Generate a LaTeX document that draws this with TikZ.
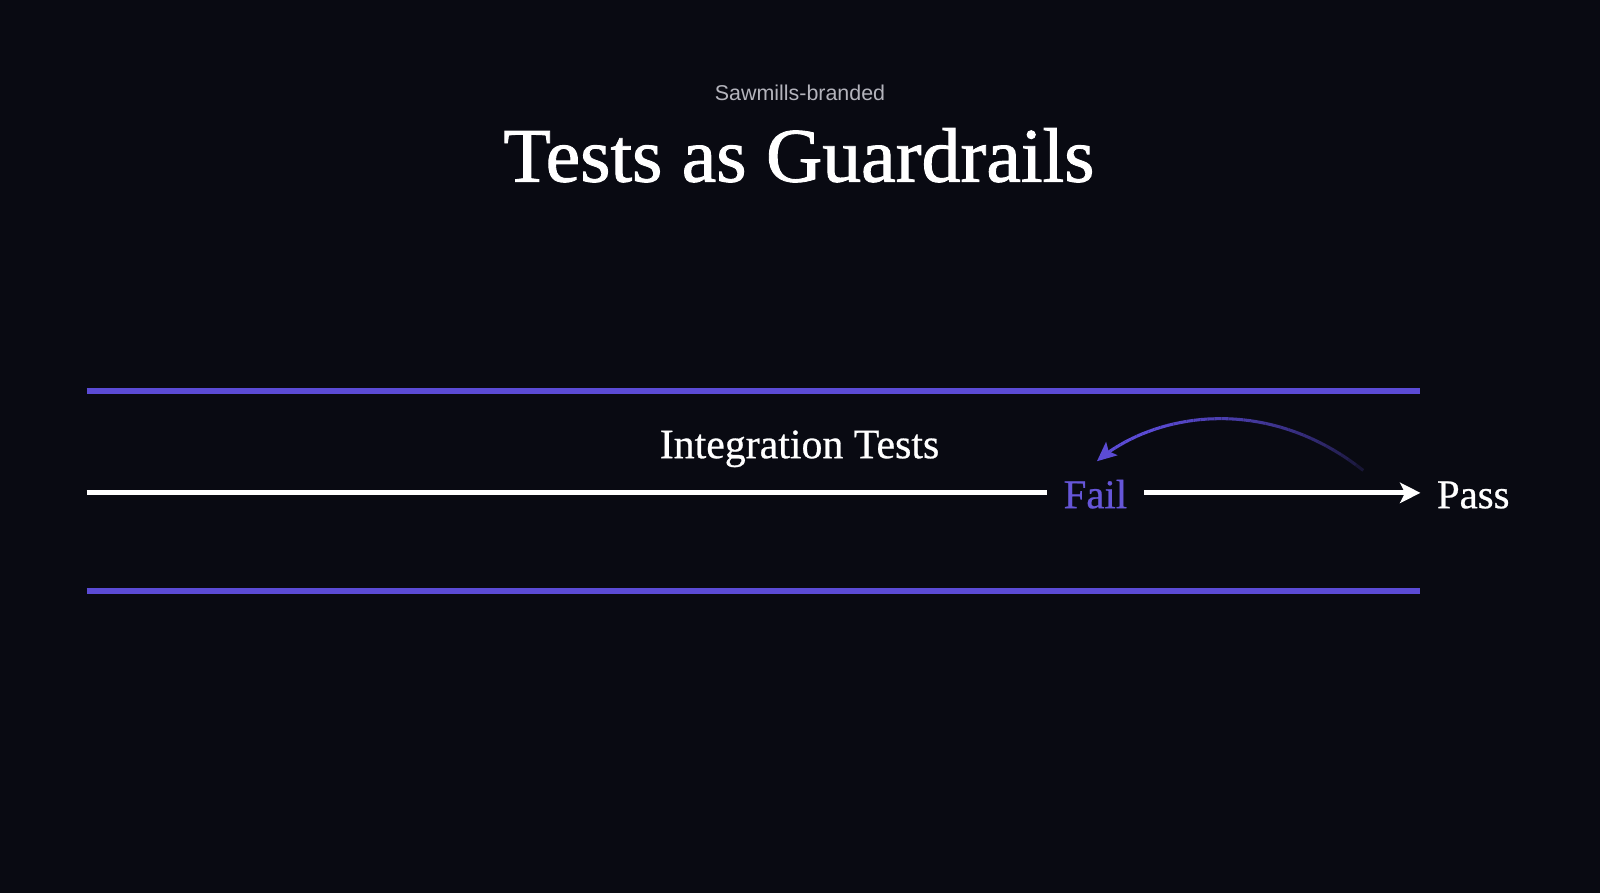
\documentclass[tikz,border=0pt]{standalone}
\usepackage{fontspec}
\setmainfont{Liberation Serif}[FakeBold=0.6]
\newfontfamily\titlefont{Liberation Serif}[FakeBold=1.2, FakeStretch=1.01]
\newfontfamily\subfont{Liberation Sans}
\usetikzlibrary{arrows.meta}
\definecolor{bg}{HTML}{090A12}
\definecolor{pur}{HTML}{5B4BD5}
\definecolor{failc}{HTML}{6656D8}
\definecolor{subc}{HTML}{B4B4BC}
\begin{document}
\begin{tikzpicture}[x=1pt,y=-1pt,
  subtitle/.style={font=\subfont\fontsize{21}{24}\selectfont, text=subc, inner sep=0},
  titletxt/.style={font=\titlefont\fontsize{75.5}{80}\selectfont, text=white, inner sep=0},
  labeltxt/.style={font=\fontsize{41}{46}\selectfont, text=white, inner sep=0},
  failtxt/.style={font=\fontsize{40}{44}\selectfont, text=failc, inner ysep=0, inner xsep=16.5pt},
  passtxt/.style={font=\fontsize{40}{44}\selectfont, text=white, inner ysep=0, inner xsep=16pt},
  rail/.style={draw=pur, line width=5.5pt},
  wline/.style={draw=white, line width=4.8pt},
  declare function={bz(\t,\a,\b,\c,\d)=(1-\t)^3*\a+3*(1-\t)^2*\t*\b+3*(1-\t)*\t^2*\c+\t^3*\d;}
]
\fill[bg] (0,0) rectangle (1568,875);
\useasboundingbox (0,0) rectangle (1568,875);

% texts
\node[subtitle, anchor=base] (sub) at (784,98) {Sawmills-branded};
\node[titletxt, anchor=base] (title) at (783,178) {Tests as Guardrails};
\node[labeltxt, anchor=base] (integ) at (783.5,449) {Integration Tests};
\node[failtxt, anchor=base] (fail) at (1073.5,498) {Fail};
\node[passtxt, anchor=base west] (pass) at (1392,498) {Pass};

% rails
\coordinate (r1a) at (85,383);
\coordinate (r1b) at (1392,383);
\coordinate (r2a) at (85,579);
\coordinate (r2b) at (1392,579);
\draw[rail] (r1a) -- (r1b);
\draw[rail] (r2a) -- (r2b);

% white track
\coordinate (l0) at (85,483);
\draw[wline] (l0) -- (l0 -| fail.west);
\draw[wline, -{Stealth[length=20pt, width=20pt, inset=5pt]}] (l0 -| fail.east) -- (l0 -| pass.west);

% fading curved arrow back to Fail
\coordinate (cstart) at (1336,461);
\coordinate (cend) at (1075,452);
\foreach \i in {0,...,38} {
  \pgfmathsetmacro\ta{\i/40}
  \pgfmathsetmacro\tb{(\i+1)/40}
  \pgfmathsetmacro\op{min(100,115*sqrt(\tb))}
  \draw[line width=3pt, draw=pur!\op!bg]
    ({bz(\ta,1336,1240,1130,1075)},{bz(\ta,461,385,405,452)}) --
    ({bz(\tb,1336,1240,1130,1075)},{bz(\tb,461,385,405,452)});
}
\coordinate (cpre) at ({bz(0.975,1336,1240,1130,1075)},{bz(0.975,461,385,405,452)});
\draw[line width=3pt, draw=pur, -{Stealth[length=19pt, width=17pt, inset=4pt]}] (cpre) -- (cend);
\end{tikzpicture}
\end{document}
